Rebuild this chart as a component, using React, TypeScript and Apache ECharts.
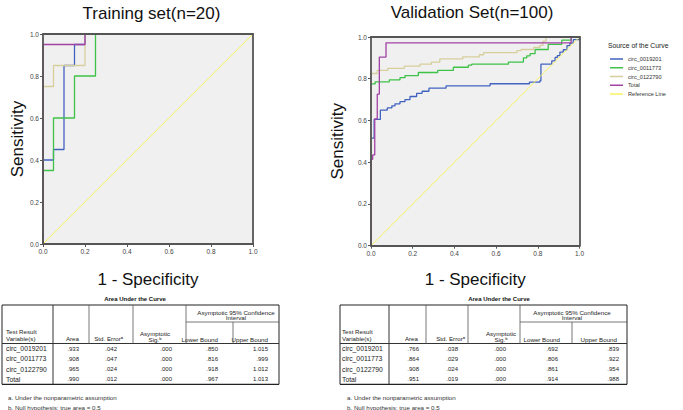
import React, { useEffect, useRef } from "react";
import * as echarts from "echarts";

const FONT = "'Liberation Sans', Arial, Helvetica, sans-serif";

// ---------- legend / series names ----------
const curveNames = ["circ_0019201", "circ_0011773", "circ_0122790", "Total", "Reference Line"];
const curveColors = ["#4262c0", "#3ec247", "#d6cf9c", "#a242a4", "#f7f25e"];

// ---------- Training set ROC vertices (1 - specificity, sensitivity) ----------
const trainBlueFpr = [0, 0, 0.05, 0.10, 0.15, 0.20, 1.0];
const trainBlueTpr = [0, 0.40, 0.45, 0.85, 0.95, 1.0, 1.0];
const trainGreenFpr = [0, 0, 0.05, 0.15, 0.25, 1.0];
const trainGreenTpr = [0, 0.35, 0.60, 0.80, 1.0, 1.0];
const trainTanFpr = [0, 0, 0.05, 0.20, 1.0];
const trainTanTpr = [0, 0.75, 0.85, 1.0, 1.0];
const trainTotalFpr = [0, 0, 0.20, 1.0];
const trainTotalTpr = [0, 0.95, 1.0, 1.0];

// ---------- Validation set ROC vertices ----------
const validBlueFpr = [0, 0, 0.015, 0.045, 0.078, 0.10, 0.115, 0.139, 0.163, 0.187, 0.219, 0.245, 0.278, 0.36, 0.571, 0.76, 0.81, 0.815, 0.867, 0.883, 0.894, 0.906, 0.922, 0.94, 0.954, 0.97, 1.0];
const validBlueTpr = [0, 0.515, 0.605, 0.65, 0.66, 0.67, 0.68, 0.69, 0.70, 0.715, 0.73, 0.74, 0.755, 0.766, 0.776, 0.784, 0.79, 0.87, 0.886, 0.902, 0.911, 0.928, 0.939, 0.959, 0.971, 0.987, 1.0];
const validGreenFpr = [0, 0, 0.02, 0.088, 0.139, 0.163, 0.227, 0.32, 0.395, 0.467, 0.483, 0.659, 0.731, 0.747, 0.763, 0.787, 0.85, 0.915, 0.96, 1.0];
const validGreenTpr = [0, 0.775, 0.785, 0.795, 0.805, 0.815, 0.83, 0.84, 0.855, 0.865, 0.87, 0.88, 0.90, 0.91, 0.92, 0.94, 0.965, 0.985, 1.0, 1.0];
const validTanFpr = [0, 0, 0.03, 0.08, 0.16, 0.235, 0.29, 0.33, 0.44, 0.52, 0.54, 0.70, 0.72, 0.78, 0.81, 0.825, 0.84, 1.0];
const validTanTpr = [0, 0.825, 0.84, 0.85, 0.86, 0.87, 0.88, 0.895, 0.905, 0.915, 0.925, 0.935, 0.94, 0.95, 0.96, 0.98, 1.0, 1.0];
const validTotalFpr = [0, 0, 0.008, 0.018, 0.03, 0.04, 0.072, 0.96, 1.0];
const validTotalTpr = [0, 0.414, 0.435, 0.608, 0.726, 0.904, 0.972, 1.0, 1.0];

const refFpr = [0, 1];
const refTpr = [0, 1];

// ---------- axis ticks ----------
const tickMin = 0;
const tickMax = 1;
const tickStep = 0.2;

// ---------- titles ----------
const plotTitles = ["Training set(n=20)", "Validation Set(n=100)"];
const xAxisTitle = "1 - Specificity";
const yAxisTitle = "Sensitivity";
const legendTitle = "Source of the Curve";

// ---------- AUC tables ----------
const tableTitle = "Area Under the Curve";
const rowLabels = ["circ_0019201", "circ_0011773", "circ_0122790", "Total"];
const trainArea = [".933", ".908", ".965", ".990"];
const trainStdErr = [".042", ".047", ".024", ".012"];
const trainSig = [".000", ".000", ".000", ".000"];
const trainLower = [".850", ".816", ".918", ".967"];
const trainUpper = ["1.015", ".999", "1.012", "1.013"];
const validArea = [".766", ".864", ".908", ".951"];
const validStdErr = [".038", ".029", ".024", ".019"];
const validSig = [".000", ".000", ".000", ".000"];
const validLower = [".692", ".806", ".861", ".914"];
const validUpper = [".839", ".922", ".954", ".988"];
const footnotes = ["a. Under the nonparametric assumption", "b. Null hypothesis: true area = 0.5"];

const zip = (xs: number[], ys: number[]) => xs.map((x, i) => [x, ys[i]]);

type TableLayout = {
  cols: number[];
  titleX: number;
  valueRight: number[];
  labelX: number;
  areaRight: number;
  stdRight: number;
  sigCenter: number;
  ciCenter: number;
  lowerRight: number;
  upperRight: number;
  footX: number;
};

function buildTable(L: TableLayout, columns: string[][]) {
  const els: any[] = [];
  const top = 305;
  const sub = 322;
  const hb = 343.5;
  const rowH = 10.2;
  const bottom = hb + rowH * rowLabels.length;
  const c = L.cols;
  const line = (x1: number, y1: number, x2: number, y2: number, w = 0.8, col = "#555") => ({
    type: "line",
    shape: { x1, y1, x2, y2 },
    style: { stroke: col, lineWidth: w },
    silent: true,
  });
  const txt = (t: string, x: number, y: number, align: string, size: number, bold = false, color = "#222") => ({
    type: "text",
    x,
    y,
    style: {
      text: t,
      fill: color,
      fontSize: size,
      fontFamily: FONT,
      fontWeight: bold ? "bold" : "normal",
      align,
      verticalAlign: "middle",
    },
    silent: true,
  });
  els.push(txt(tableTitle, L.titleX, 299, "center", 6, true, "#111"));
  // frame
  els.push(line(c[0], top, c[6], top, 1.2, "#222"));
  els.push(line(c[0], bottom, c[6], bottom, 1.2, "#222"));
  els.push(line(c[0], top, c[0], bottom, 1, "#222"));
  els.push(line(c[6], top, c[6], bottom, 1, "#222"));
  els.push(line(c[1], top, c[1], bottom, 1, "#333"));
  els.push(line(c[0], hb, c[6], hb, 1, "#333"));
  els.push(line(c[2], top, c[2], hb));
  els.push(line(c[3], top, c[3], hb));
  els.push(line(c[4], top, c[4], hb));
  els.push(line(c[5], sub, c[5], hb));
  els.push(line(c[4], sub, c[6], sub));
  // header
  const hs = 6.2;
  els.push(txt("Test Result", L.labelX, 331.5, "left", hs));
  els.push(txt("Variable(s)", L.labelX, 338, "left", hs));
  els.push(txt("Area", L.areaRight, 338.5, "right", hs));
  els.push(txt("Std. Errorᵃ", L.stdRight, 338.5, "right", hs));
  els.push(txt("Asymptotic", L.sigCenter, 333.5, "center", hs));
  els.push(txt("Sig.ᵇ", L.sigCenter, 339, "center", hs));
  els.push(txt("Asymptotic 95% Confidence", L.ciCenter, 312, "center", hs));
  els.push(txt("Interval", L.ciCenter, 317.5, "center", hs));
  els.push(txt("Lower Bound", L.lowerRight, 339, "right", hs));
  els.push(txt("Upper Bound", L.upperRight, 339, "right", hs));
  // rows
  rowLabels.forEach((lab, r) => {
    const y = hb + rowH * (r + 0.5);
    els.push(txt(lab, L.labelX, y, "left", 6.8));
    columns.forEach((col, k) => {
      els.push(txt(col[r], L.valueRight[k], y, "right", 6));
    });
  });
  els.push(txt(footnotes[0], L.footX, 397.5, "left", 6.2, false, "#333"));
  els.push(txt(footnotes[1], L.footX, 407, "left", 6.2, false, "#333"));
  return els;
}

export default function App() {
  const ref = useRef<HTMLDivElement>(null);
  useEffect(() => {
    if (!ref.current) return;
    const chart = echarts.init(ref.current, null, { renderer: "svg" });

    const grids = [
      { left: 43, top: 34, width: 210, height: 210 },
      { left: 371, top: 37, width: 208.5, height: 208.7 },
    ];
    const yNameGaps = [16, 25];
    const xNameGaps = [27, 25];
    const axisLineStyle = { color: "#555", width: 1.8 };

    const mainX = grids.map((_, i) => ({
      type: "value",
      gridIndex: i,
      position: "bottom",
      z: 10,
      min: tickMin,
      max: tickMax,
      interval: tickStep,
      name: xAxisTitle,
      nameLocation: "middle",
      nameGap: xNameGaps[i],
      nameTextStyle: { fontSize: 17, color: "#111", fontFamily: FONT },
      axisLine: { show: true, onZero: false, lineStyle: axisLineStyle },
      axisTick: { show: true, length: 3, lineStyle: { color: "#555" } },
      axisLabel: { fontSize: 6.5, color: "#444", margin: 4, fontFamily: FONT, formatter: (v: number) => v.toFixed(1) },
      splitLine: { show: false },
    }));
    const frameX = grids.map((_, i) => ({
      type: "value",
      gridIndex: i,
      position: "top",
      z: 10,
      min: tickMin,
      max: tickMax,
      axisLine: { show: true, onZero: false, lineStyle: axisLineStyle },
      axisTick: { show: false },
      axisLabel: { show: false },
      splitLine: { show: false },
    }));
    const mainY = grids.map((_, i) => ({
      type: "value",
      gridIndex: i,
      position: "left",
      z: 10,
      min: tickMin,
      max: tickMax,
      interval: tickStep,
      name: yAxisTitle,
      nameLocation: "middle",
      nameGap: yNameGaps[i],
      nameTextStyle: { fontSize: 17, color: "#111", fontFamily: FONT },
      axisLine: { show: true, onZero: false, lineStyle: axisLineStyle },
      axisTick: { show: true, length: 3, lineStyle: { color: "#555" } },
      axisLabel: { fontSize: 6.5, color: "#444", margin: 4, fontFamily: FONT, formatter: (v: number) => v.toFixed(1) },
      splitLine: { show: false },
    }));
    const frameY = grids.map((_, i) => ({
      type: "value",
      gridIndex: i,
      position: "right",
      z: 10,
      min: tickMin,
      max: tickMax,
      axisLine: { show: true, onZero: false, lineStyle: axisLineStyle },
      axisTick: { show: false },
      axisLabel: { show: false },
      splitLine: { show: false },
    }));

    const sets = [
      [
        zip(trainBlueFpr, trainBlueTpr),
        zip(trainGreenFpr, trainGreenTpr),
        zip(trainTanFpr, trainTanTpr),
        zip(trainTotalFpr, trainTotalTpr),
        zip(refFpr, refTpr),
      ],
      [
        zip(validBlueFpr, validBlueTpr),
        zip(validGreenFpr, validGreenTpr),
        zip(validTanFpr, validTanTpr),
        zip(validTotalFpr, validTotalTpr),
        zip(refFpr, refTpr),
      ],
    ];

    const series: any[] = [];
    sets.forEach((set, g) => {
      set.forEach((data, k) => {
        series.push({
          type: "line",
          name: curveNames[k],
          xAxisIndex: g,
          yAxisIndex: g,
          data,
          step: k < 4 ? "end" : false,
          showSymbol: false,
          symbol: "none",
          color: curveColors[k],
          lineStyle: { color: curveColors[k], width: k < 4 ? 1.3 : 1 },
          z: 2 + k,
        });
      });
    });

    const trainLayout: TableLayout = {
      cols: [2, 53, 89, 133, 186, 233, 279],
      titleX: 135,
      valueRight: [79, 117, 172, 218, 268],
      labelX: 6,
      areaRight: 79,
      stdRight: 123,
      sigCenter: 155,
      ciCenter: 236,
      lowerRight: 218,
      upperRight: 268,
      footX: 8,
    };
    const validLayout: TableLayout = {
      cols: [340, 389, 426, 468, 520, 572, 627],
      titleX: 499,
      valueRight: [419, 458, 506, 558, 619],
      labelX: 342,
      areaRight: 418,
      stdRight: 465,
      sigCenter: 501,
      ciCenter: 572,
      lowerRight: 560,
      upperRight: 617,
      footX: 347,
    };

    const graphic: any[] = [
      {
        type: "text",
        x: 151.5,
        y: 13,
        style: { text: plotTitles[0], fontSize: 17, fill: "#111", fontFamily: FONT, align: "center", verticalAlign: "middle" },
      },
      {
        type: "text",
        x: 472,
        y: 12,
        style: { text: plotTitles[1], fontSize: 17, fill: "#111", fontFamily: FONT, align: "center", verticalAlign: "middle" },
      },
      {
        type: "text",
        x: 608,
        y: 45,
        style: { text: legendTitle, fontSize: 6.8, fill: "#222", fontFamily: FONT, align: "left", verticalAlign: "middle" },
      },
      ...buildTable(trainLayout, [trainArea, trainStdErr, trainSig, trainLower, trainUpper]),
      ...buildTable(validLayout, [validArea, validStdErr, validSig, validLower, validUpper]),
    ];

    chart.setOption({
      animation: false,
      backgroundColor: "#ffffff",
      grid: grids.map((g) => ({
        ...g,
        show: true,
        backgroundColor: "#f0f0f0",
        borderWidth: 0,
      })),
      xAxis: [...mainX, ...frameX],
      yAxis: [...mainY, ...frameY],
      legend: {
        orient: "vertical",
        left: 610,
        top: 56,
        padding: 0,
        itemWidth: 13,
        itemHeight: 1.5,
        itemGap: 2.75,
        icon: "rect",
        selectedMode: false,
        textStyle: { fontSize: 5.6, lineHeight: 6, color: "#333", fontFamily: FONT },
        data: curveNames,
      },
      series,
      graphic,
    });
    return () => chart.dispose();
  }, []);
  return (
    <div
      ref={ref}
      style={{ position: "fixed", left: 0, top: 0, width: 683, height: 410, background: "#fff" }}
    />
  );
}
